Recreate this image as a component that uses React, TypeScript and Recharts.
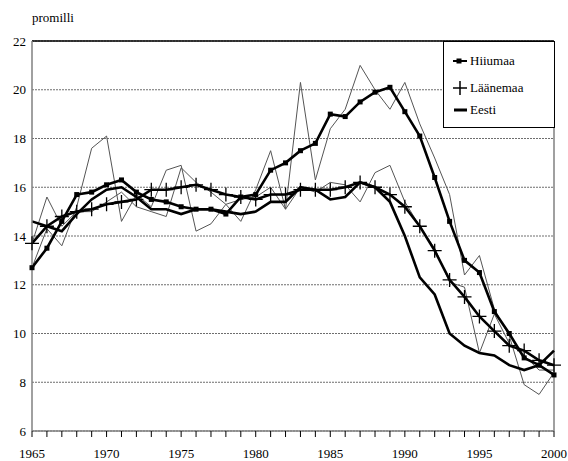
import React from 'react'
import { LineChart, Line, XAxis, YAxis, CartesianGrid, ReferenceLine } from 'recharts'

const years = [
  1965, 1966, 1967, 1968, 1969, 1970, 1971, 1972, 1973, 1974, 1975, 1976,
  1977, 1978, 1979, 1980, 1981, 1982, 1983, 1984, 1985, 1986, 1987, 1988,
  1989, 1990, 1991, 1992, 1993, 1994, 1995, 1996, 1997, 1998, 1999, 2000,
]

// smoothed series (thick lines)
const hiiumaa = [
  12.7, 13.5, 14.6, 15.7, 15.8, 16.1, 16.3, 15.8, 15.5, 15.4, 15.2, 15.1,
  15.1, 14.9, 15.6, 15.7, 16.7, 17.0, 17.5, 17.8, 19.0, 18.9, 19.5, 19.9,
  20.1, 19.1, 18.1, 16.4, 14.6, 13.0, 12.5, 10.9, 10.0, 9.0, 8.7, 8.3,
]
const laanemaa = [
  13.7, 14.4, 14.8, 15.0, 15.1, 15.3, 15.4, 15.5, 15.9, 15.9, 16.0, 16.1,
  15.9, 15.7, 15.6, 15.5, 15.7, 15.7, 15.9, 15.9, 15.9, 16.0, 16.2, 16.0,
  15.7, 15.2, 14.4, 13.4, 12.2, 11.5, 10.7, 10.1, 9.5, 9.3, 8.9, 8.7,
]
const eesti = [
  14.6, 14.4, 14.2, 14.9, 15.5, 15.9, 16.0, 15.6, 15.1, 15.1, 14.9, 15.1,
  15.1, 15.0, 14.9, 15.0, 15.4, 15.4, 16.0, 15.9, 15.5, 15.6, 16.2, 16.0,
  15.4, 14.0, 12.3, 11.6, 10.0, 9.5, 9.2, 9.1, 8.7, 8.5, 8.7, 9.3,
]

// yearly values (thin lines)
const hiiumaaRaw = [
  12.7, 14.3, 13.6, 15.2, 17.6, 18.1, 14.6, 15.7, 15.2, 16.7, 16.9, 14.2,
  14.5, 15.3, 14.6, 15.9, 17.5, 15.1, 20.3, 16.3, 18.4, 19.2, 21.0, 20.0,
  19.2, 20.3, 18.6, 17.2, 15.7, 12.4, 13.2, 11.0, 9.9, 7.9, 7.5, 8.4,
]
const laanemaaRaw = [
  13.7, 15.6, 14.4, 15.0, 15.0, 15.4, 15.8, 15.2, 15.0, 14.8, 16.8, 16.2,
  15.8, 15.3, 15.5, 15.6, 16.0, 15.1, 16.0, 15.8, 16.2, 16.1, 15.4, 16.6,
  16.9, 15.4, 14.4, 13.5, 12.1, 11.9, 9.2, 10.8, 9.6, 9.1, 8.5, 8.5,
]

const yTicks = [6, 8, 10, 12, 14, 16, 18, 20, 22]

const data = years.map((year, i) => ({
  year,
  hiiumaa: hiiumaa[i],
  laanemaa: laanemaa[i],
  eesti: eesti[i],
  hiiumaaRaw: hiiumaaRaw[i],
  laanemaaRaw: laanemaaRaw[i],
}))

const font = 'Liberation Serif, DejaVu Serif, serif'
const tickStyle = { fontSize: 13, fill: '#000', fontFamily: font }

const SquareDot = (props: any) => {
  const { cx, cy, index } = props
  if (cx == null || cy == null) return <g key={index} />
  return <rect key={index} x={cx - 2.5} y={cy - 2.5} width={5} height={5} fill="#000" />
}

const PlusDot = (props: any) => {
  const { cx, cy, index } = props
  if (cx == null || cy == null) return <g key={index} />
  return (
    <path
      key={index}
      d={`M${cx - 7},${cy}H${cx + 7}M${cx},${cy - 7}V${cy + 7}`}
      stroke="#000"
      strokeWidth={1.3}
      fill="none"
    />
  )
}

function LegendBox() {
  const row = { position: 'absolute' as const, left: 8, height: 20, display: 'flex', alignItems: 'center' }
  const label = { fontFamily: font, fontSize: 13, color: '#000', marginLeft: 2 }
  return (
    <div
      style={{
        position: 'absolute', left: 443, top: 41, width: 112, height: 87,
        boxSizing: 'border-box', border: '1px solid #000', background: '#fff',
      }}
    >
      <div style={{ ...row, top: 9 }}>
        <svg width={16} height={16}>
          <line x1={1} y1={8} x2={15} y2={8} stroke="#000" strokeWidth={2} />
          <rect x={4.5} y={5.5} width={5} height={5} fill="#000" />
        </svg>
        <span style={label}>Hiiumaa</span>
      </div>
      <div style={{ ...row, top: 36 }}>
        <svg width={16} height={16}>
          <path d="M1,8H15M8,1V15" stroke="#000" strokeWidth={1.5} />
        </svg>
        <span style={label}>Läänemaa</span>
      </div>
      <div style={{ ...row, top: 58 }}>
        <svg width={16} height={16}>
          <line x1={2} y1={8} x2={15} y2={8} stroke="#000" strokeWidth={3} />
        </svg>
        <span style={label}>Eesti</span>
      </div>
    </div>
  )
}

export default function App() {
  return (
    <div style={{ position: 'absolute', left: 0, top: 0, width: 568, height: 461, background: '#fff' }}>
      <div style={{ position: 'absolute', left: 32, top: 10, fontFamily: font, fontSize: 13, color: '#000' }}>
        promilli
      </div>
      <LineChart
        width={568}
        height={461}
        data={data}
        margin={{ top: 41, right: 14, bottom: 0, left: 0 }}
        style={{ fontFamily: font }}
      >
        <CartesianGrid horizontal vertical={false} stroke="#6e6e6e" strokeDasharray="2 1" />
        <XAxis
          dataKey="year"
          type="number"
          domain={[1965, 2000]}
          ticks={years}
          interval={0}
          tickFormatter={(v: number) => (v % 5 === 0 ? String(v) : '')}
          tick={tickStyle}
          tickSize={6}
          tickMargin={12}
          height={30}
          axisLine={{ stroke: '#808080', strokeWidth: 1.5 }}
          tickLine={{ stroke: '#000' }}
        />
        <YAxis
          domain={[6, 22]}
          ticks={yTicks}
          interval={0}
          tick={tickStyle}
          tickLine={false}
          tickSize={0}
          tickMargin={6}
          width={32}
          axisLine={{ stroke: '#808080', strokeWidth: 1.5 }}
        />
        <ReferenceLine y={22} stroke="#000" strokeWidth={1.5} />
        <ReferenceLine x={2000} stroke="#808080" strokeWidth={1.5} />
        <Line dataKey="hiiumaaRaw" stroke="#555" strokeWidth={1} dot={false} isAnimationActive={false} />
        <Line dataKey="laanemaaRaw" stroke="#555" strokeWidth={1} dot={false} isAnimationActive={false} />
        <Line dataKey="eesti" stroke="#000" strokeWidth={2.6} dot={false} isAnimationActive={false} />
        <Line dataKey="laanemaa" stroke="#000" strokeWidth={2.6} dot={PlusDot} isAnimationActive={false} />
        <Line dataKey="hiiumaa" stroke="#000" strokeWidth={2.6} dot={SquareDot} isAnimationActive={false} />
      </LineChart>
      <LegendBox />
    </div>
  )
}
